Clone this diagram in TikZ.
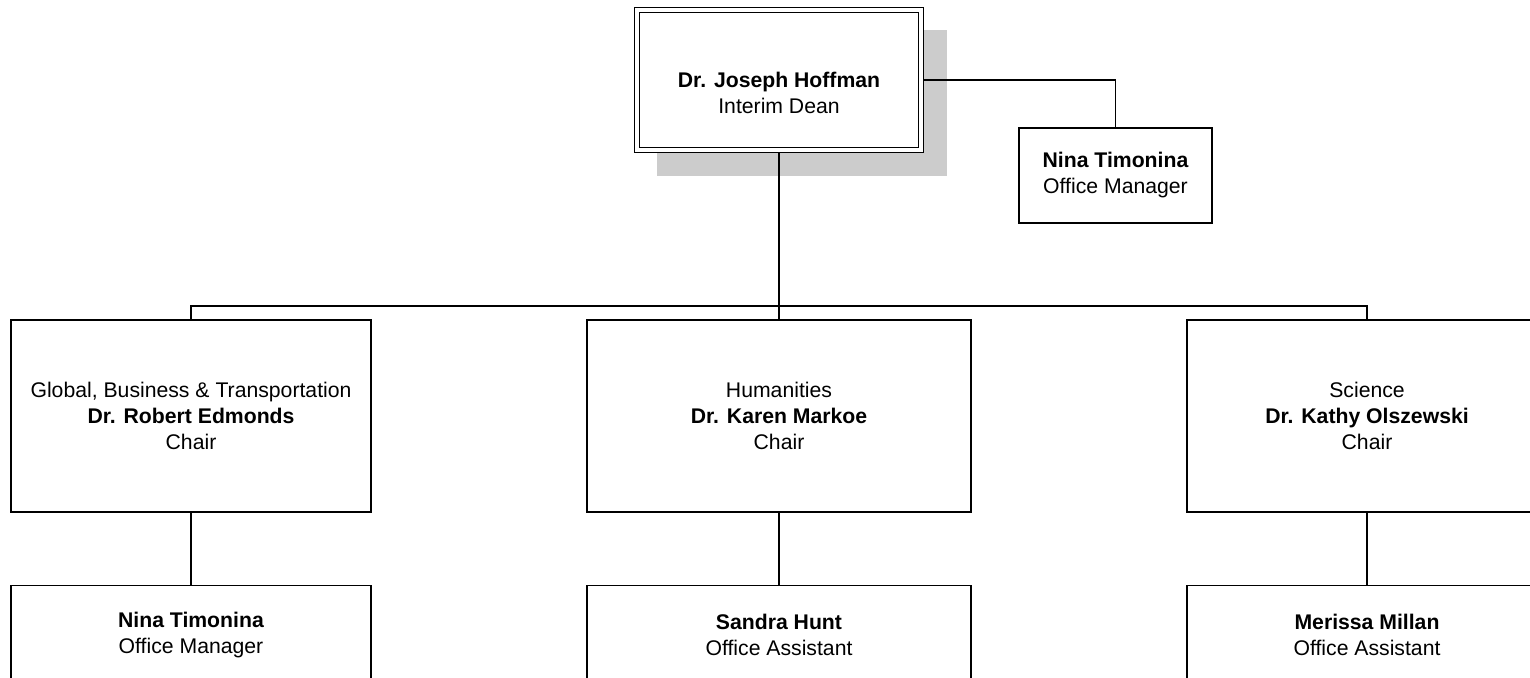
\documentclass[tikz,border=0pt]{standalone}
\usepackage{fontspec}
\setmainfont{Liberation Sans}
\definecolor{shadowgray}{RGB}{204,204,204}
\usetikzlibrary{positioning}

\begin{document}
\begin{tikzpicture}[
  x=0.5pt, y=-0.5pt,
  node distance=36pt,
  txt/.style={align=center, inner sep=0pt, font=\fontsize{10.6}{13}\selectfont},
  orgbox/.style={txt, draw=black, line width=0.8pt, fill=white},
  deanbox/.style={orgbox, double, line width=0.6pt, double distance=1.9pt,
                  outer sep=1.55pt, minimum width=142pt, minimum height=70pt},
  chair/.style={orgbox, minimum width=180pt, minimum height=96pt},
  staff/.style={orgbox, minimum width=180pt, minimum height=49pt},
  aide/.style={orgbox, minimum width=96.5pt, minimum height=47.5pt},
  link/.style={draw=black, line width=0.8pt}
]
\useasboundingbox (0,0) rectangle (1530,677);
\clip (0,0) rectangle (1530,677);

% Dean and shadow
\fill[shadowgray] (657,30) rectangle (947,176);
\node[deanbox] (dean) at (779,80) {};
\node[txt, yshift=-6.5pt] (deanname) at (dean.center) {\textbf{Dr. Joseph Hoffman}\\Interim Dean};
\node[aide] (office) at (1115.5,175.5) {\textbf{Nina Timonina}\\Office Manager};

% Chairs
\node[chair] (chairL) at (191,416) {Global, Business \& Transportation\\\textbf{Dr. Robert Edmonds}\\Chair};
\node[chair, minimum width=192pt] (chairM) at (779,416) {Humanities\\\textbf{Dr. Karen Markoe}\\Chair};
\node[chair] (chairR) at (1367,416) {Science\\\textbf{Dr. Kathy Olszewski}\\Chair};

% Staff
\node[staff, below=of chairL] (staffL) {\textbf{Nina Timonina}\\Office Manager};
\node[staff, minimum width=192pt, below=of chairM] (staffM) {\textbf{Sandra Hunt}\\Office Assistant};
\node[staff, below=of chairR] (staffR) {\textbf{Merissa Millan}\\Office Assistant};

\coordinate (bar) at (779,306);

\draw[link] (dean.east) -| (office.north);
\draw[link] (dean.south) -- (bar) -- (chairM.north);
\draw[link] (chairL.north) |- (bar) -| (chairR.north);
\draw[link] (chairL) -- (staffL);
\draw[link] (chairM) -- (staffM);
\draw[link] (chairR) -- (staffR);
\end{tikzpicture}
\end{document}
